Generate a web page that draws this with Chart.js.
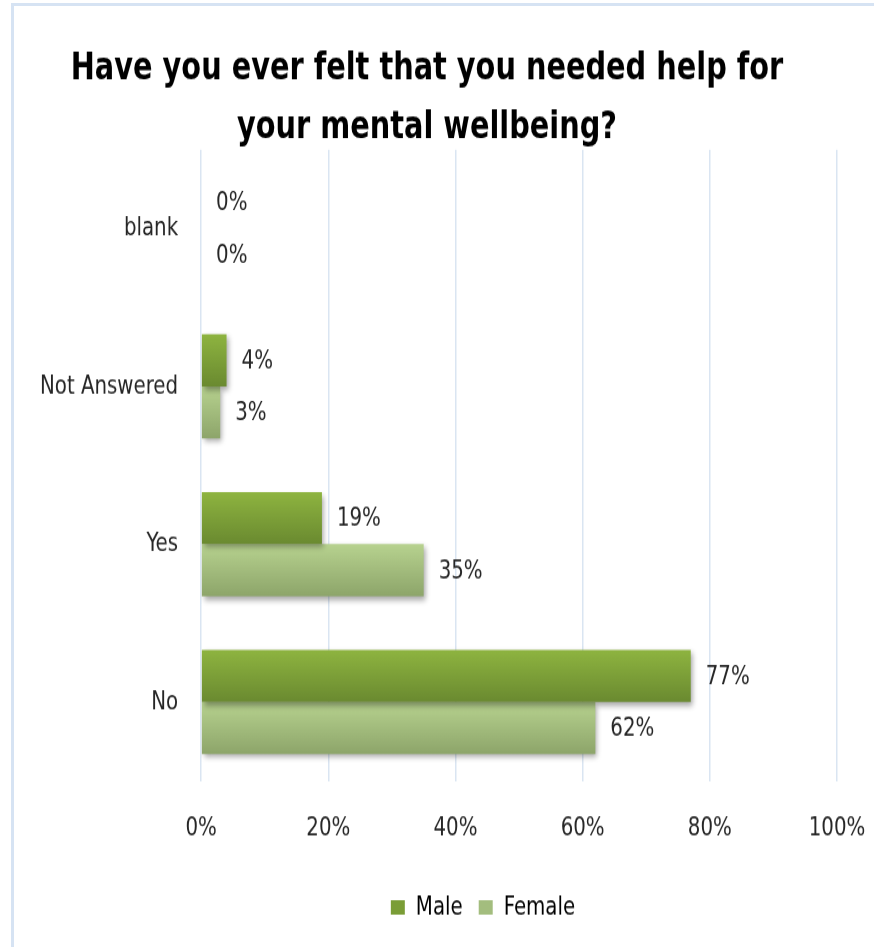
<!DOCTYPE html>
<html>
<head>
<meta charset="utf-8">
<script src="https://cdn.jsdelivr.net/npm/chart.js@4"></script>
<style>
  html, body { margin: 0; padding: 0; background: #fff; }
  #wrap { position: relative; width: 874px; height: 947px; }
  #frame { position: absolute; left: 11px; top: 3px; right: 0; bottom: 0;
           border-left: 3px solid #d6e3f3; border-top: 3px solid #d6e3f3; }
  canvas { position: absolute; left: 0; top: 0; }
</style>
</head>
<body>
<div id="wrap">
  <div id="frame"></div>
  <!-- drawn at 789 px tall, shown at 947 so the lettering comes out tall and narrow -->
  <canvas id="myChart" width="874" height="789" style="width:874px;height:947px"></canvas>
</div>
<script>
var answers = ["blank", "Not Answered", "Yes", "No"];
var male = [0, 4, 19, 77];
var female = [0, 3, 35, 62];
var xTicks = [0, 20, 40, 60, 80, 100];

var narrow = "'DejaVu Sans Condensed', 'Liberation Sans Narrow', 'Open Sans', sans-serif";
var catPct = 0.66;

// vertical gradient per bar, worked out from the category scale
function barFill(top, bottom, isFemale) {
  return function(context) {
    var chart = context.chart;
    var y = chart.scales.y;
    if (!y || context.dataIndex === undefined) return top;
    var center = y.getPixelForValue(context.dataIndex);
    var half = (y.height / answers.length) * catPct / 2;
    var y0 = isFemale ? center : center - half;
    var y1 = isFemale ? center + half : center;
    var g = chart.ctx.createLinearGradient(0, y0, 0, y1);
    g.addColorStop(0, top);
    g.addColorStop(1, bottom);
    return g;
  };
}

var barShadow = {
  id: 'barShadow',
  beforeDatasetsDraw: function(chart) {
    var ctx = chart.ctx;
    ctx.save();
    ctx.shadowColor = 'rgba(0,0,0,0.35)';
    ctx.shadowBlur = 5;
    ctx.shadowOffsetX = 2;
    ctx.shadowOffsetY = 3;
  },
  afterDatasetsDraw: function(chart) {
    chart.ctx.restore();
  }
};

var valueLabels = {
  id: 'valueLabels',
  afterDatasetsDraw: function(chart) {
    var ctx = chart.ctx;
    ctx.save();
    ctx.font = "22px " + narrow;
    ctx.fillStyle = '#262626';
    ctx.textAlign = 'left';
    ctx.textBaseline = 'middle';
    chart.data.datasets.forEach(function(ds, di) {
      chart.getDatasetMeta(di).data.forEach(function(bar, i) {
        ctx.fillText(ds.data[i] + '%', bar.x + 15, bar.y + 1);
      });
    });
    ctx.restore();
  }
};

// legend sits a bit right of the canvas middle
var legendShift = {
  id: 'legendShift',
  afterLayout: function(chart) {
    chart.legend.left += 56;
    chart.legend.right += 56;
  }
};

var canvas = document.getElementById("myChart");
var ctx = canvas.getContext("2d");
new Chart(ctx, {
  type: 'bar',
  data: {
    labels: answers,
    datasets: [{
      label: 'Male',
      data: male,
      backgroundColor: barFill('#8eb440', '#6a8a30', false),
      borderWidth: 0
    }, {
      label: 'Female',
      data: female,
      backgroundColor: barFill('#b7d28f', '#8da56a', true),
      borderWidth: 0
    }]
  },
  options: {
    indexAxis: 'y',
    responsive: false,
    animation: false,
    devicePixelRatio: 1,
    layout: { padding: { left: 17, right: 37, top: 34, bottom: 12 } },
    datasets: { bar: { categoryPercentage: catPct, barPercentage: 1 } },
    scales: {
      x: {
        min: 0, max: 100,
        afterBuildTicks: function(axis) {
          axis.ticks = xTicks.map(function(v) { return { value: v }; });
        },
        // end labels may hang past the plot edges
        afterFit: function(axis) {
          axis.paddingLeft = 0;
          axis.paddingRight = 0;
        },
        grid: { color: '#dae5f2', lineWidth: 1.5, drawTicks: false },
        border: { display: false },
        ticks: {
          padding: 26,
          color: '#262626',
          font: { family: narrow, size: 22 },
          callback: function(v) { return v + '%'; }
        }
      },
      y: {
        grid: { display: false, drawTicks: false },
        border: { display: false },
        ticks: {
          padding: 23,
          color: '#262626',
          font: { family: narrow, size: 22 }
        }
      }
    },
    plugins: {
      title: {
        display: true,
        text: ['Have you ever felt that you needed help for', 'your mental wellbeing?'],
        color: '#000',
        font: { family: narrow, size: 32, weight: 'bold', lineHeight: 1.51 },
        padding: { top: 0, bottom: -6 }
      },
      legend: {
        position: 'bottom',
        labels: {
          boxWidth: 14, boxHeight: 12,
          color: '#262626',
          padding: 16,
          font: { family: narrow, size: 22 },
          generateLabels: function(chart) {
            var cols = ['#7a9d36', '#a3bd7e'];
            return chart.data.datasets.map(function(ds, i) {
              return { text: ds.label, fillStyle: cols[i], strokeStyle: cols[i], lineWidth: 0, datasetIndex: i };
            });
          }
        }
      },
      tooltip: { enabled: false }
    }
  },
  plugins: [barShadow, valueLabels, legendShift]
});
// keep the stretched display size
canvas.style.width = '874px';
canvas.style.height = '947px';
</script>
</body>
</html>
